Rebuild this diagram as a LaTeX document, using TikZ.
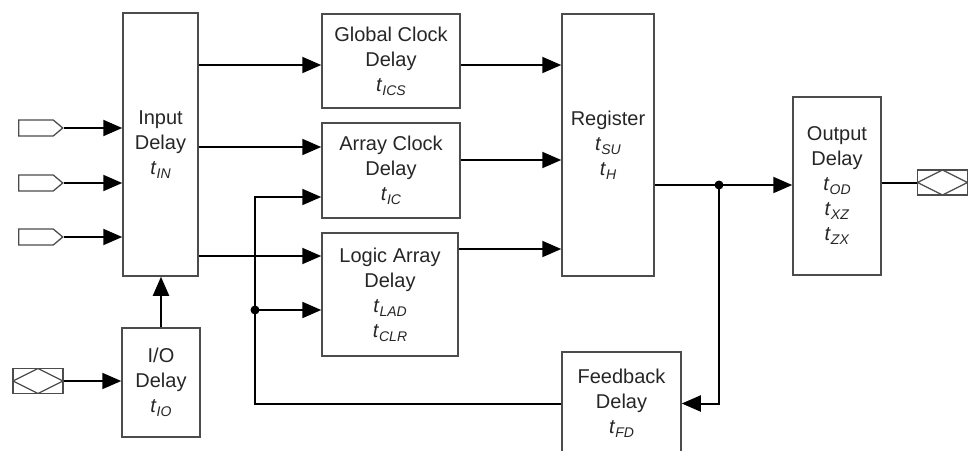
\documentclass[tikz,border=0pt]{standalone}
\usepackage{fontspec}
\setmainfont{Liberation Sans}
\usetikzlibrary{positioning,arrows.meta,shapes.symbols,calc}
\newcommand{\tdel}[1]{\textit{t}\raisebox{-4pt}{\fontsize{14}{14}\selectfont\textit{#1}}}

\begin{document}
\begin{tikzpicture}[x=1pt, y=-1pt,
  bloc/.style={draw=black!70, line width=1.5pt, inner sep=0pt, align=center, text=black!85, font=\fontsize{20}{25}\selectfont},
  fleche/.style={line width=2pt, -{Triangle[length=19pt,width=16pt]}},
  ligne/.style={line width=2pt},
  entree/.style={draw=black!70, line width=1.3pt, signal, signal to=east, signal pointer angle=80, minimum width=44pt, minimum height=16pt, inner sep=0pt},
  broche/.style={draw=black!70, line width=1.3pt, minimum width=50pt, minimum height=25pt, inner sep=0pt,
    path picture={\draw[black!70, line width=1.3pt] (path picture bounding box.west) -- (path picture bounding box.north) -- (path picture bounding box.east) -- (path picture bounding box.south) -- cycle;}},
  point/.style={circle, fill, inner sep=0pt, minimum size=9pt}]
\useasboundingbox (0,0) rectangle (969,450);
% Blocs
\node[bloc, minimum width=75pt, minimum height=263pt] (inp) at (160.5,144.5) {Input\\Delay\\\tdel{IN}};
\node[bloc, minimum width=138pt, minimum height=94pt] (gcd) at (391,61) {Global Clock\\Delay\\\tdel{ICS}};
\node[bloc, minimum width=138pt, minimum height=95pt] (acd) at (391,170.5) {Array Clock\\Delay\\\tdel{IC}};
\node[bloc, minimum width=136pt, minimum height=123pt] (lad) at (390,294.5) {Logic Array\\Delay\\\tdel{LAD}\\\tdel{CLR}};
\node[bloc, minimum width=92pt, minimum height=262pt] (reg) at (608,145) {Register\\\tdel{SU}\\\tdel{H}};
\node[bloc, minimum width=88pt, minimum height=178pt] (outd) at (837,186) {Output\\Delay\\\tdel{OD}\\\tdel{XZ}\\\tdel{ZX}};
\node[bloc, minimum width=119pt, minimum height=103pt] (fbd) at (621.5,403.5) {Feedback\\Delay\\\tdel{FD}};
\node[bloc, minimum width=78pt, minimum height=109pt] (iod) at (161,382.5) {I/O\\Delay\\\tdel{IO}};
% Broches
\node[entree] (e1) at (36,128) {};
\node[entree] (e2) at (36,183) {};
\node[entree] (e3) at (36,237) {};
\node[broche] (bio) at (38,381) {};
\node[broche] (bout) at (942.5,182.5) {};
% Points de jonction
\node[point] (n1) at (255,310) {};
\node[point] (n2) at (719,185) {};
% Points d'arrivee
\coordinate (gin) at ($(gcd.west)+(0,4)$);
\coordinate (ain1) at ($(acd.west)+(0,-23.5)$);
\coordinate (ain2) at ($(acd.west)+(0,26.5)$);
\coordinate (lin1) at ($(lad.west)+(0,-38.5)$);
\coordinate (lin2) at ($(lad.west)+(0,15.5)$);
\coordinate (rin1) at ($(reg.west)+(0,-80)$);
\coordinate (rin2) at ($(reg.west)+(0,15)$);
\coordinate (rin3) at ($(reg.west)+(0,104)$);
\coordinate (rout) at ($(reg.east)+(0,40)$);
% Entrees
\foreach \e in {e1,e2,e3} \draw[fleche] (\e.east) -- (\e.east -| inp.west);
\draw[fleche] (bio.east) -- (bio.east -| iod.west);
\draw[fleche] (iod.north) -- (iod.north |- inp.south);
% Vers les retards d'horloge et de logique
\draw[fleche] (gin -| inp.east) -- (gin);
\draw[fleche] (ain1 -| inp.east) -- (ain1);
\draw[fleche] (lin1 -| inp.east) -- (lin1);
% Vers le registre
\draw[fleche] (rin1 -| gcd.east) -- (rin1);
\draw[fleche] (rin2 -| acd.east) -- (rin2);
\draw[fleche] (rin3 -| lad.east) -- (rin3);
% Sortie
\draw[fleche] (rout) -- (rout -| outd.west);
\draw[ligne] (bout.west -| outd.east) -- (bout.west);
% Retour
\draw[fleche] (n2.center) |- (fbd.east);
\draw[fleche] (fbd.west) -| (ain2 -| n1) -- (ain2);
\draw[fleche] (n1.center) -- (lin2);
\end{tikzpicture}
\end{document}
